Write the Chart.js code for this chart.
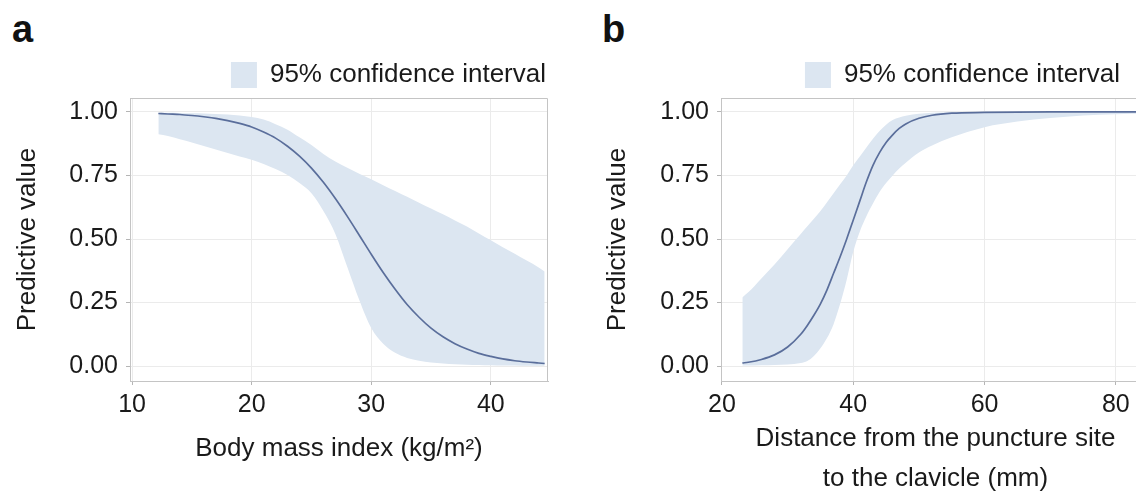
<!DOCTYPE html>
<html>
<head>
<meta charset="utf-8">
<script src="https://cdn.jsdelivr.net/npm/chart.js@4.4.0/dist/chart.umd.min.js"></script>
<style>
  html, body { margin: 0; padding: 0; background: #fff; width: 1136px; height: 500px; overflow: hidden; }
  .panel { position: absolute; top: 0; height: 500px; }
  .tag { position: absolute; top: 10px; font: bold 38px/38px "Liberation Sans", Arial, sans-serif; color: #111; }
</style>
</head>
<body>
<div class="tag" style="left:12px">a</div>
<div class="tag" style="left:602px">b</div>
<div class="panel" style="left:0; width:560px"><canvas id="chartA"></canvas></div>
<div class="panel" style="left:590px; width:560px"><canvas id="chartB"></canvas></div>
<script>
// panel a: body mass index
var bmiX = [12.2,13,14,15,16,17,18,19,20,21,22,23,24,25,26,27,28,29,30,31,32,33,34,35,36,37,38,39,40,41,42,43,44,44.5];
var bmiFit = [0.994,0.992,0.990,0.986,0.981,0.975,0.966,0.955,0.941,0.921,0.897,0.865,0.826,0.779,0.723,0.659,0.589,0.515,0.440,0.368,0.302,0.242,0.192,0.149,0.115,0.088,0.067,0.050,0.038,0.028,0.021,0.016,0.012,0.010];
var bmiUpper = [0.997,0.997,0.996,0.995,0.994,0.992,0.990,0.986,0.980,0.970,0.952,0.930,0.900,0.870,0.835,0.805,0.780,0.757,0.735,0.712,0.689,0.666,0.643,0.620,0.597,0.573,0.549,0.522,0.495,0.468,0.442,0.415,0.388,0.372];
var bmiLower = [0.912,0.905,0.893,0.880,0.866,0.852,0.838,0.825,0.812,0.795,0.775,0.752,0.720,0.680,0.610,0.520,0.390,0.260,0.150,0.088,0.052,0.032,0.021,0.014,0.010,0.007,0.005,0.004,0.003,0.002,0.002,0.001,0.001,0.001];
var bmiTicks = [10,20,30,40];

// panel b: distance from puncture site to clavicle
var distX = [23.1,24,26,28,30,32,33,34,35,36,37,38,39,40,41,42,43,44,45,46,47,48,50,52,55,60,65,70,75,80,85];
var distFit = [0.012,0.015,0.026,0.044,0.075,0.125,0.160,0.200,0.245,0.300,0.365,0.430,0.500,0.575,0.650,0.725,0.790,0.840,0.880,0.910,0.935,0.953,0.975,0.987,0.995,0.998,0.9995,1,1,1,1];
var distUpper = [0.270,0.290,0.345,0.400,0.460,0.520,0.550,0.580,0.610,0.645,0.680,0.715,0.750,0.790,0.825,0.860,0.895,0.925,0.950,0.968,0.978,0.985,0.993,0.997,0.999,1,1,1,1,1,1];
var distLower = [0.002,0.002,0.003,0.004,0.006,0.012,0.020,0.040,0.070,0.110,0.165,0.245,0.340,0.450,0.530,0.590,0.640,0.685,0.720,0.750,0.777,0.800,0.840,0.868,0.900,0.940,0.962,0.976,0.986,0.991,0.994];
var distTicks = [20,40,60,80];

var yTicks = [0,0.25,0.5,0.75,1];
var ciLabel = '95% confidence interval';

Chart.defaults.font.family = '"Liberation Sans", Arial, sans-serif';
Chart.defaults.color = '#1a1a1a';

var lineColor = '#5a6e9b';
var bandColor = '#dce6f1';
var gridColor = '#ebebeb';
var frameColor = '#c4c4c4';

function pts(xs, ys) {
    return xs.map(function(x, i){ return {x: x, y: ys[i]}; });
}

// top and right edge of the panel box
var framePlugin = {
    id: 'frame',
    afterDraw: function(chart){
        var a = chart.chartArea, ctx = chart.ctx;
        ctx.save();
        ctx.strokeStyle = frameColor;
        ctx.lineWidth = 1;
        ctx.beginPath();
        ctx.moveTo(a.left, a.top + 0.5);
        ctx.lineTo(a.right - 0.5, a.top + 0.5);
        ctx.lineTo(a.right - 0.5, a.bottom);
        ctx.stroke();
        ctx.restore();
    }
};

function makeChart(id, xs, fit, upper, lower, xTicks, xMin, xMax, xTitle, cfg) {
    var ctx = document.getElementById(id).getContext('2d');
    return new Chart(ctx, {
        type: 'line',
        data: {
            datasets: [{
                label: 'fit',
                data: pts(xs, fit),
                borderColor: lineColor,
                borderWidth: 1.7,
                pointRadius: 0,
                fill: false,
                cubicInterpolationMode: 'monotone'
            }, {
                label: ciLabel,
                data: pts(xs, upper),
                borderWidth: 0,
                borderColor: 'rgba(0,0,0,0)',
                backgroundColor: bandColor,
                pointRadius: 0,
                fill: '+1',
                cubicInterpolationMode: 'monotone'
            }, {
                label: 'lower',
                data: pts(xs, lower),
                borderWidth: 0,
                borderColor: 'rgba(0,0,0,0)',
                backgroundColor: bandColor,
                pointRadius: 0,
                fill: false,
                cubicInterpolationMode: 'monotone'
            }]
        },
        options: {
            responsive: true,
            maintainAspectRatio: false,
            animation: false,
            devicePixelRatio: 1,
            layout: { padding: { left: 12, right: cfg.right, top: cfg.top, bottom: 0 } },
            plugins: {
                tooltip: { enabled: false },
                title: { display: false },
                legend: {
                    position: 'top',
                    align: 'end',
                    labels: {
                        boxWidth: 26,
                        boxHeight: 26,
                        padding: cfg.legendPad,
                        font: { size: 26 },
                        color: '#1a1a1a',
                        filter: function(item){ return item.datasetIndex === 1; }
                    }
                }
            },
            scales: {
                x: {
                    type: 'linear',
                    min: xMin,
                    max: xMax,
                    afterBuildTicks: function(s){ s.ticks = xTicks.map(function(v){ return {value: v}; }); },
                    afterFit: function(s){ s.height = 119; },
                    grid: { color: gridColor, drawTicks: true, tickLength: 4, tickColor: '#b5b5b5' },
                    border: { color: frameColor },
                    ticks: { font: { size: 25 }, padding: 5, maxRotation: 0 },
                    title: {
                        display: true,
                        text: xTitle,
                        font: { size: 26, lineHeight: cfg.titleLH },
                        padding: { top: 0, bottom: cfg.titlePad }
                    }
                },
                y: {
                    min: -0.0588,
                    max: 1.0549,
                    afterBuildTicks: function(s){ s.ticks = yTicks.map(function(v){ return {value: v}; }); },
                    afterFit: function(s){ s.width = cfg.yWidth; },
                    grid: { color: gridColor, drawTicks: true, tickLength: 4, tickColor: '#b5b5b5' },
                    border: { color: frameColor },
                    ticks: { font: { size: 25 }, padding: 8, callback: function(v){ return Number(v).toFixed(2); } },
                    title: {
                        display: true,
                        text: 'Predictive value',
                        font: { size: 26 },
                        padding: { top: 0, bottom: 0 }
                    }
                }
            }
        },
        plugins: [framePlugin]
    });
}

makeChart('chartA', bmiX, bmiFit, bmiUpper, bmiLower, bmiTicks, 9.83, 44.78,
    'Body mass index (kg/m\u00b2)',
    { right: 12, top: 60, legendPad: 2, yWidth: 118, titlePad: 36, titleLH: 1.2 });

makeChart('chartB', distX, distFit, distUpper, distLower, distTicks, 19.85, 85.2,
    ['Distance from the puncture site', 'to the clavicle (mm)'],
    { right: 0, top: 32, legendPad: 30, yWidth: 119, titlePad: 1, titleLH: '40px' });
</script>
</body>
</html>
